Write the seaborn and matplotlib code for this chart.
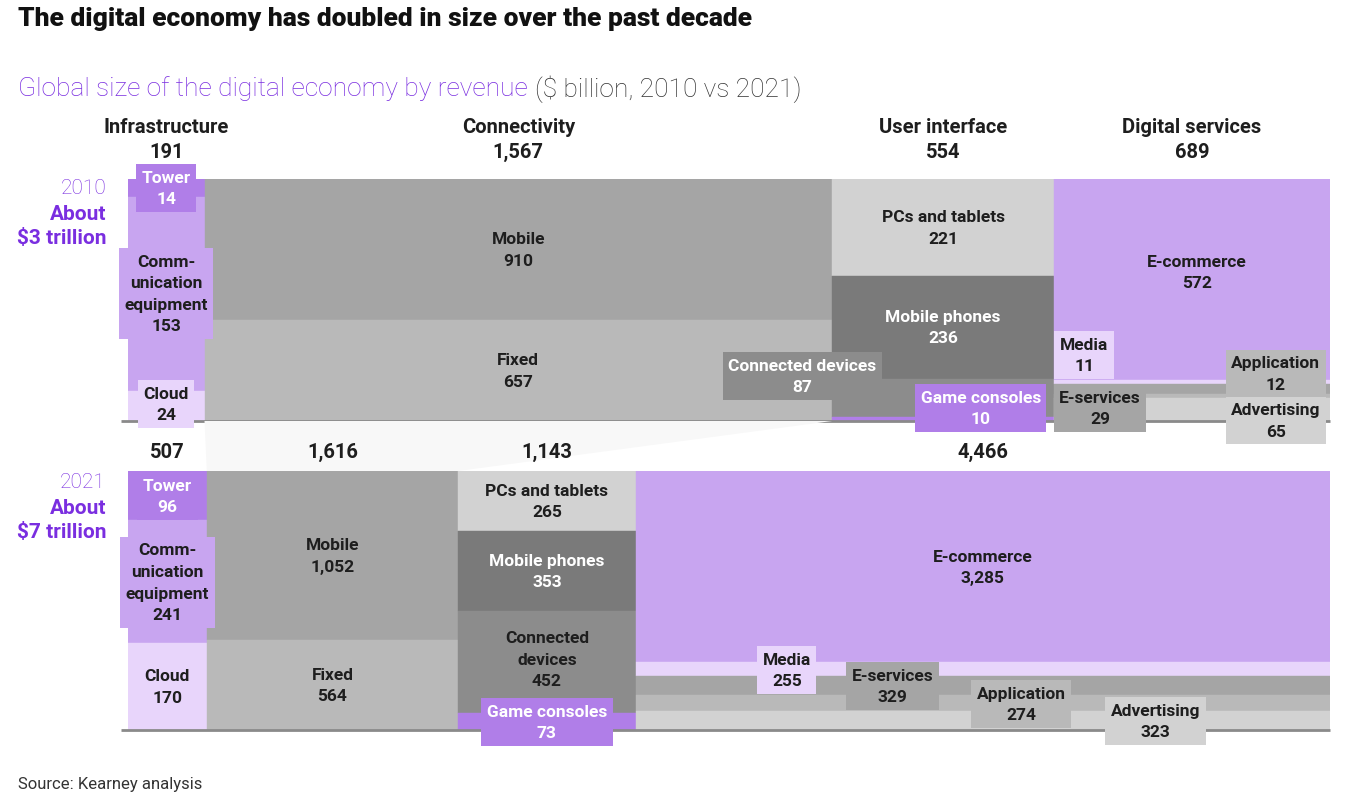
import matplotlib
matplotlib.use("Agg")
import matplotlib.pyplot as plt
import seaborn as sns
from matplotlib.patches import Polygon

# -----------------------------
# Data ($ billion)
# -----------------------------
categories = ["Infrastructure", "Connectivity", "User interface", "Digital services"]

infra_items_2010 = ["Tower", "Comm-\nunication\nequipment", "Cloud"]
infra_items_2021 = ["Tower", "Comm-\nunication\nequipment", "Cloud"]
infra_2010 = [14, 153, 24]
infra_2021 = [96, 241, 170]

conn_items_2010 = ["Mobile", "Fixed"]
conn_items_2021 = ["Mobile", "Fixed"]
conn_2010 = [910, 657]
conn_2021 = [1052, 564]

ui_items_2010 = ["PCs and tablets", "Mobile phones", "Connected devices", "Game consoles"]
ui_items_2021 = ["PCs and tablets", "Mobile phones", "Connected\ndevices", "Game consoles"]
ui_2010 = [221, 236, 87, 10]
ui_2021 = [265, 353, 452, 73]

ds_items_2010 = ["E-commerce", "Media", "E-services", "Application", "Advertising"]
ds_items_2021 = ["E-commerce", "Media", "E-services", "Application", "Advertising"]
ds_2010 = [572, 11, 29, 12, 65]
ds_2021 = [3285, 255, 329, 274, 323]

values_2010 = [infra_2010, conn_2010, ui_2010, ds_2010]
values_2021 = [infra_2021, conn_2021, ui_2021, ds_2021]
items_2010 = [infra_items_2010, conn_items_2010, ui_items_2010, ds_items_2010]
items_2021 = [infra_items_2021, conn_items_2021, ui_items_2021, ds_items_2021]

# -----------------------------
# Styles
# -----------------------------
sns.set_style("white")
plt.rcParams["font.family"] = ["Roboto", "DejaVu Sans"]

PURPLE = "#7a2ee0"
DARK = "#1e1e1e"
P1, P2, P3 = "#b07ee8", "#c8a5f0", "#e8d5fb"
G1, G2, G3, G4, G5 = "#7a7a7a", "#8c8c8c", "#a5a5a5", "#b9b9b9", "#d2d2d2"

seg_colors = [
    [P1, P2, P3],
    [G3, G4],
    [G5, G1, G2, P1],
    [P2, P3, G3, G4, G5],
]
white_2010 = [[True, False, False], [False, False], [False, True, True, True],
              [False, False, False, False, False]]
white_2021 = [[True, False, False], [False, False], [False, True, False, True],
              [False, False, False, False, False]]

# label centres: (fraction across column, fraction down column); None = segment centre
pos_2010 = [
    [(0.5, 0.037), (0.5, 0.473), (0.5, 0.93)],
    [None, None],
    [None, None, (-0.135, 0.814), (0.67, 0.946)],
    [(0.518, 0.384), (0.109, 0.727), (0.167, 0.946), (0.804, 0.804), (0.804, 0.998)],
]
pos_2021 = [
    [(0.5, 0.0965), (0.5, 0.43), None],
    [None, None],
    [None, None, (0.5, 0.726), (0.5, 0.969)],
    [(0.5, 0.371), (0.2176, 0.768), (0.37, 0.83), (0.555, 0.90), (0.749, 0.965)],
]

W, H = 1356, 812
fig = plt.figure(figsize=(W / 100, H / 100), dpi=100)


def px_axes(left, top, right, bottom):
    return fig.add_axes([left / W, 1 - bottom / H, (right - left) / W, (bottom - top) / H])


ax10 = px_axes(128, 180, 1330, 422)
ax21 = px_axes(128, 472, 1330, 731)


def draw_row(ax, values, items, positions, whites):
    grand = sum(sum(v) for v in values)
    ax.set_xlim(0, grand)
    ax.set_ylim(1, 0)
    ax.axis("off")
    x0 = 0
    centres = []
    for ci, vals in enumerate(values):
        tot = sum(vals)
        cum = 0
        for si, v in enumerate(vals):
            col = seg_colors[ci][si]
            ax.bar(x0, v / tot, width=tot, bottom=cum / tot, align="edge",
                   color=col, edgecolor=col, linewidth=0.3, zorder=1)
            p = positions[ci][si]
            if p is None:
                lx, ly = x0 + tot / 2, (cum + v / 2) / tot
            else:
                lx, ly = x0 + p[0] * tot, p[1]
            ax.text(lx, ly, f"{items[ci][si]}\n{v:,}", ha="center", va="center",
                    fontsize=12.5, fontweight="bold", linespacing=1.55,
                    color="white" if whites[ci][si] else DARK, zorder=4,
                    bbox=dict(boxstyle="square,pad=0.32", fc=col, ec="none"))
            cum += v
        centres.append((x0, tot))
        x0 += tot
    ax.plot([-0.006 * grand, grand], [1, 1], color="#8a8a8a", lw=2,
            clip_on=False, zorder=2, solid_capstyle="butt")
    return centres


cols10 = draw_row(ax10, values_2010, items_2010, pos_2010, white_2010)
cols21 = draw_row(ax21, values_2021, items_2021, pos_2021, white_2021)

# column headers (2010) and totals (2021)
for cat, (x0, tot) in zip(categories, cols10):
    ax10.text(x0 + tot / 2, -0.218, cat, ha="center", va="center",
              fontsize=14.5, fontweight="bold", color=DARK, clip_on=False)
    ax10.text(x0 + tot / 2, -0.115, f"{tot:,}", ha="center", va="center",
              fontsize=14.5, fontweight="bold", color=DARK, clip_on=False)
for x0, tot in cols21:
    ax21.text(x0 + tot / 2, -0.075, f"{tot:,}", ha="center", va="center",
              fontsize=14.5, fontweight="bold", color=DARK, clip_on=False, zorder=5)

# faint wedge linking Connectivity 2010 -> 2021
fig.canvas.draw()
inv = fig.transFigure.inverted()
c10x, c10w = cols10[1]
c21x, c21w = cols21[1]
pts = [ax10.transData.transform((c10x, 1)), ax10.transData.transform((c10x + c10w, 1)),
       ax21.transData.transform((c21x + c21w, 0)), ax21.transData.transform((c21x, 0))]
ax21.add_patch(Polygon(inv.transform(pts), closed=True, transform=fig.transFigure,
                       fc="#f8f8f8", ec="none", zorder=0, clip_on=False))

# year labels on the left
for y0, year, size in [(189, "2010", "$3 trillion"), (483, "2021", "$7 trillion")]:
    fig.text(106 / W, 1 - y0 / H, year, ha="right", va="center", fontsize=15,
             color=PURPLE, fontweight="light")
    fig.text(106 / W, 1 - (y0 + 25) / H, "About", ha="right", va="center", fontsize=15,
             color=PURPLE, fontweight="bold")
    fig.text(106 / W, 1 - (y0 + 50) / H, size, ha="right", va="center", fontsize=15,
             color=PURPLE, fontweight="bold")

# title, subtitle, source
fig.text(18 / W, 1 - 19 / H, "The digital economy has doubled in size over the past decade",
         ha="left", va="center", fontsize=19, fontweight="black", color="#111111")
sub = fig.text(18 / W, 1 - 89 / H, "Global size of the digital economy by revenue",
               ha="left", va="center", fontsize=19, fontweight="light", color=PURPLE)
r = fig.canvas.get_renderer()
bb = sub.get_window_extent(renderer=r)
fig.text((bb.x1 + 7) / W, 1 - 89 / H, "($ billion, 2010 vs 2021)", ha="left", va="center",
         fontsize=19, fontweight="light", color="#333333")
fig.text(18 / W, 1 - 785 / H, "Source: Kearney analysis", ha="left", va="center",
         fontsize=12, color="#333333")

fig.savefig("out.png", dpi=100, facecolor="white")
